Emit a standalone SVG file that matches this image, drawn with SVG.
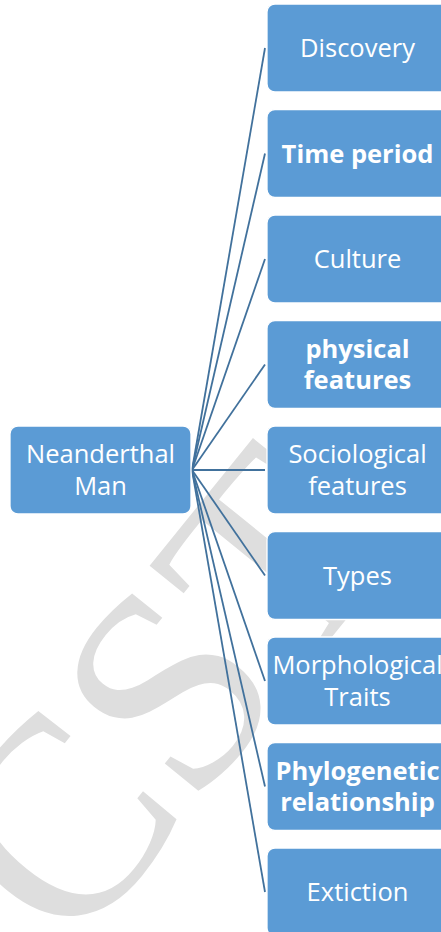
<svg xmlns="http://www.w3.org/2000/svg" width="441" height="932" viewBox="0 0 441 932">
<style>
.wm{font-family:"Liberation Serif",serif;font-size:285px;fill:#dedede}
.box{fill:#5B9BD5;stroke:#ffffff;stroke-width:1.3}
.t{font-family:"Open Sans","Noto Sans",sans-serif;font-size:25.5px;fill:#ffffff;text-anchor:middle}
.b{font-weight:bold}
.c line{stroke:#41719C;stroke-width:1.8;fill:none}
</style>
<rect width="441" height="932" fill="#ffffff"/>
<g id="watermark"><text class="wm" transform="translate(72,958) rotate(-51)" x="0" y="0">CST</text></g>
<g id="connectors" class="c">
<line x1="192" y1="470" x2="265" y2="48"/>
<line x1="192" y1="470" x2="265" y2="153.5"/>
<line x1="192" y1="470" x2="265" y2="259"/>
<line x1="192" y1="470" x2="265" y2="364.5"/>
<line x1="192" y1="470" x2="265" y2="470"/>
<line x1="192" y1="470" x2="265" y2="575.5"/>
<line x1="192" y1="470" x2="265" y2="681"/>
<line x1="192" y1="470" x2="265" y2="786.5"/>
<line x1="192" y1="470" x2="265" y2="892"/>
</g>
<g id="root"><rect class="box" x="10" y="426" width="181" height="88" rx="8"/><text class="t" x="100.5" y="463">Neanderthal</text><text class="t" x="100.5" y="494.5">Man</text></g>
<g id="n1"><rect class="box" x="267" y="4" width="181" height="88" rx="8"/><text class="t" x="357.5" y="57">Discovery</text></g>
<g id="n2"><rect class="box" x="267" y="109.5" width="181" height="88" rx="8"/><text class="t b" x="357.5" y="162.5">Time period</text></g>
<g id="n3"><rect class="box" x="267" y="215" width="181" height="88" rx="8"/><text class="t" x="357.5" y="268">Culture</text></g>
<g id="n4"><rect class="box" x="267" y="320.5" width="181" height="88" rx="8"/><text class="t b" x="357.5" y="357.5">physical</text><text class="t b" x="357.5" y="389">features</text></g>
<g id="n5"><rect class="box" x="267" y="426" width="181" height="88" rx="8"/><text class="t" x="357.5" y="463">Sociological</text><text class="t" x="357.5" y="494.5">features</text></g>
<g id="n6"><rect class="box" x="267" y="531.5" width="181" height="88" rx="8"/><text class="t" x="357.5" y="584.5">Types</text></g>
<g id="n7"><rect class="box" x="267" y="637" width="181" height="88" rx="8"/><text class="t" x="357.5" y="674">Morphological</text><text class="t" x="357.5" y="705.5">Traits</text></g>
<g id="n8"><rect class="box" x="267" y="742.5" width="181" height="88" rx="8"/><text class="t b" x="357.5" y="779.5">Phylogenetic</text><text class="t b" x="357.5" y="811">relationship</text></g>
<g id="n9"><rect class="box" x="267" y="848" width="181" height="88" rx="8"/><text class="t" x="357.5" y="901">Extiction</text></g>
</svg>
